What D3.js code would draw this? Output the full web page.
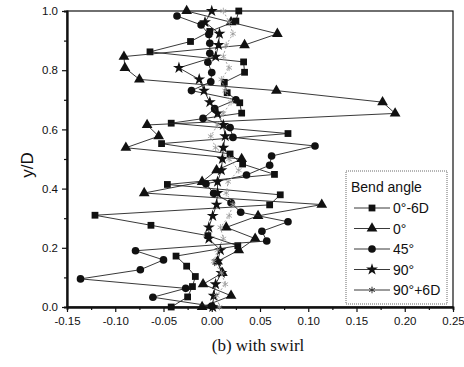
<!DOCTYPE html>
<html>
<head>
<meta charset="utf-8">
<script src="https://cdn.jsdelivr.net/npm/d3@7"></script>
<style>
  body { margin: 0; background: #fff; }
  text { font-family: "Liberation Sans", Arial, sans-serif; }
</style>
</head>
<body>
<div id="chart"></div>
<script>
// y positions (y/D)
var y29 = [1.000, 0.966, 0.931, 0.897, 0.862, 0.828, 0.793, 0.759, 0.724, 0.690, 0.655, 0.621, 0.586, 0.552, 0.517,
           0.483, 0.448, 0.414, 0.379, 0.345, 0.310, 0.276, 0.241, 0.207, 0.172, 0.138, 0.103, 0.069, 0.034, 0.000];
var y26 = [1.000, 0.962, 0.923, 0.885, 0.846, 0.808, 0.769, 0.731, 0.692, 0.654, 0.615, 0.577, 0.538, 0.500,
           0.462, 0.423, 0.385, 0.346, 0.308, 0.269, 0.231, 0.192, 0.154, 0.115, 0.077, 0.038, 0.000];
var yCircle = [0.983, 0.953, 0.921, 0.891, 0.857, 0.827, 0.792, 0.761, 0.731, 0.700, 0.670, 0.637, 0.606, 0.573, 0.544, 0.510,
               0.479, 0.446, 0.416, 0.384, 0.352, 0.320, 0.288, 0.256, 0.223, 0.190, 0.159, 0.126, 0.095, 0.063, 0.033, 0.003];

// x values per bend angle
var x0_6D = [0.028, 0.025, -0.002, -0.022, -0.064, 0.033, 0.034, 0.013, 0.016, 0.029, 0.031, -0.042, 0.079, -0.052, 0.019,
             0.032, 0.065, -0.046, 0.071, 0.060, -0.121, -0.063, -0.004, 0.027, -0.037, -0.026, -0.017, -0.020, -0.025, -0.042];
var x0 = [-0.026, 0.020, 0.068, 0.034, -0.091, -0.090, -0.075, 0.067, 0.177, 0.190, -0.067, -0.055, -0.089, 0.031,
          0.005, -0.010, -0.070, 0.114, 0.048, 0.015, 0.045, 0.028, 0.006, 0.011, -0.009, 0.020, -0.010];
var x45 = [-0.036, -0.011, -0.003, -0.002, -0.002, -0.004, 0.000, -0.001, -0.021, 0.025, 0.003, -0.009, 0.019, 0.022, 0.107, 0.062,
           0.060, 0.036, -0.006, 0.002, 0.020, 0.030, 0.079, 0.052, 0.057, -0.079, -0.050, -0.074, -0.136, -0.027, -0.061, 0.000];
var x90 = [0.000, -0.007, 0.008, 0.007, 0.004, -0.034, -0.013, -0.008, -0.002, 0.006, 0.012, 0.014, 0.012, 0.011,
           0.010, 0.006, 0.006, 0.005, 0.001, -0.003, -0.003, 0.009, 0.006, 0.010, 0.004, 0.002, 0.001];
var x90_6D = [0.012, 0.018, 0.022, 0.015, 0.012, 0.018, 0.010, 0.014, 0.020, 0.012, 0.006, -0.001, 0.004, 0.018,
              0.028, 0.017, 0.015, 0.022, 0.018, 0.009, 0.012, 0.006, 0.002, 0.010, 0.014, 0.005, 0.008];

var legendLabels = ["0°-6D", "0°", "45°", "90°", "90°+6D"];
var xTicks = [-0.15, -0.10, -0.05, 0.00, 0.05, 0.10, 0.15, 0.20, 0.25];
var xMinor = [-0.125, -0.075, -0.025, 0.025, 0.075, 0.125, 0.175, 0.225];
var yTicks = [0.0, 0.2, 0.4, 0.6, 0.8, 1.0];
var yMinor = [0.1, 0.3, 0.5, 0.7, 0.9];

var width = 464, height = 367;
var padL = 67, padR = 453, padT = 11, padB = 307;

var svg = d3.select("#chart")
  .append("svg")
    .attr("width", width)
    .attr("height", height);

var x = d3.scaleLinear().domain([-0.15, 0.25]).range([padL, padR]);
var y = d3.scaleLinear().domain([0, 1]).range([padB, padT]);

// box
svg.append("rect")
  .attr("x", padL).attr("y", padT)
  .attr("width", padR - padL).attr("height", padB - padT)
  .attr("fill", "none").attr("stroke", "#111").attr("stroke-width", 1.2);

// axes
var xAxis = svg.append("g")
  .attr("transform", "translate(0," + padB + ")")
  .call(d3.axisBottom(x).tickValues(xTicks).tickSize(5).tickSizeOuter(0)
    .tickFormat(function(d) { return d.toFixed(2); }));
svg.append("g")
  .attr("transform", "translate(0," + padB + ")")
  .call(d3.axisBottom(x).tickValues(xMinor).tickSize(3).tickFormat(""));

var yAxis = svg.append("g")
  .attr("transform", "translate(" + padL + ",0)")
  .call(d3.axisLeft(y).tickValues(yTicks).tickSize(5).tickSizeOuter(0)
    .tickFormat(function(d) { return d.toFixed(1); }));
svg.append("g")
  .attr("transform", "translate(" + padL + ",0)")
  .call(d3.axisLeft(y).tickValues(yMinor).tickSize(3).tickFormat(""));

svg.selectAll(".domain").attr("stroke", "#111").attr("stroke-width", 1.8);
svg.selectAll(".tick line").attr("stroke", "#111").attr("stroke-width", 1.2);
xAxis.selectAll("text").attr("font-size", 11.5).attr("fill", "#111").attr("dy", "0.9em");
yAxis.selectAll("text").attr("font-size", 11.5).attr("fill", "#111").attr("dx", "-1px");

// marker shapes
var sym = {
  square: d3.symbol().type(d3.symbolSquare).size(46),
  triangle: d3.symbol().type(d3.symbolTriangle).size(50),
  circle: d3.symbol().type(d3.symbolCircle).size(46),
  star: d3.symbol().type(d3.symbolStar).size(44),
  asterisk: d3.symbol().type(d3.symbolAsterisk).size(30)
};

var series = [
  { name: legendLabels[0], xs: x0_6D, ys: y29, shape: "square", line: "#222", dash: null },
  { name: legendLabels[1], xs: x0, ys: y26, shape: "triangle", line: "#222", dash: null },
  { name: legendLabels[2], xs: x45, ys: yCircle, shape: "circle", line: "#222", dash: null },
  { name: legendLabels[3], xs: x90, ys: y26, shape: "star", line: "#222", dash: null },
  { name: legendLabels[4], xs: x90_6D, ys: y26, shape: "asterisk", line: "#999", dash: "2,2" }
];

var line = d3.line()
  .x(function(d) { return x(d[0]); })
  .y(function(d) { return y(d[1]); });

series.forEach(function(s) {
  var pts = s.xs.map(function(v, i) { return [v, s.ys[i]]; });
  var g = svg.append("g");
  g.append("path")
    .attr("d", line(pts))
    .attr("fill", "none")
    .attr("stroke", s.line)
    .attr("stroke-width", 0.9)
    .attr("stroke-dasharray", s.dash);
  g.selectAll("path.m")
    .data(pts)
    .enter()
    .append("path")
      .attr("class", "m")
      .attr("d", sym[s.shape])
      .attr("transform", function(d) { return "translate(" + x(d[0]) + "," + y(d[1]) + ")"; })
      .attr("fill", s.shape == "asterisk" ? "none" : "#111")
      .attr("stroke", s.shape == "asterisk" ? "#999" : "none")
      .attr("stroke-width", 0.8);
});

// legend
var legend = svg.append("g").attr("transform", "translate(346,171)");
legend.append("rect")
  .attr("width", 101).attr("height", 133)
  .attr("fill", "#fff")
  .attr("stroke", "#444").attr("stroke-width", 0.8).attr("stroke-dasharray", "1,1");
legend.append("text")
  .attr("x", 5).attr("y", 21)
  .attr("font-size", 14).attr("fill", "#111")
  .text("Bend angle");

series.forEach(function(s, i) {
  var ly = 37 + i * 20.5;
  legend.append("line")
    .attr("x1", 8).attr("x2", 44).attr("y1", ly).attr("y2", ly)
    .attr("stroke", "#222").attr("stroke-width", 0.9);
  legend.append("path")
    .attr("d", sym[s.shape])
    .attr("transform", "translate(26," + ly + ")")
    .attr("fill", s.shape == "asterisk" ? "none" : "#111")
    .attr("stroke", s.shape == "asterisk" ? "#333" : "none");
  legend.append("text")
    .attr("x", 47).attr("y", ly + 5)
    .attr("font-size", 14).attr("fill", "#111")
    .text(s.name);
});

// axis titles
svg.append("text")
  .attr("transform", "translate(33," + ((padT + padB) / 2 + 6) + ") rotate(-90)")
  .attr("text-anchor", "middle")
  .attr("font-size", 17)
  .attr("fill", "#111")
  .text("y/D");

svg.append("text")
  .attr("x", 258).attr("y", 351)
  .attr("text-anchor", "middle")
  .style("font-family", "'Liberation Serif', 'Times New Roman', serif")
  .attr("font-size", 17)
  .attr("fill", "#111")
  .text("(b) with swirl");
</script>
</body>
</html>
